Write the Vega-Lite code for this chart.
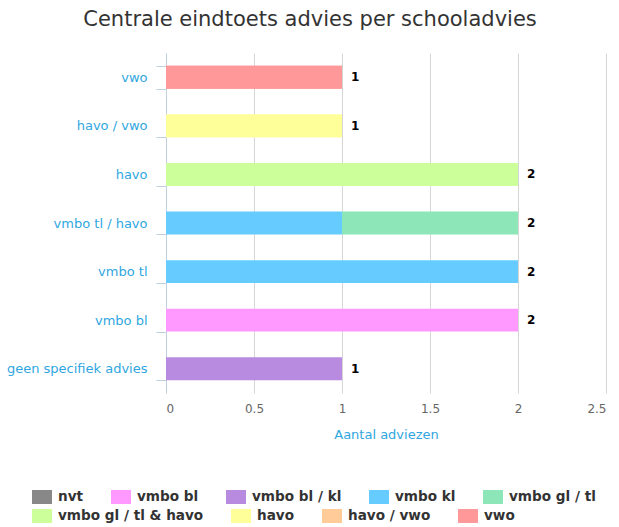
{
  "$schema": "https://vega.github.io/schema/vega-lite/v6.json",
  "width": 440,
  "height": 340,
  "autosize": {"type": "none"},
  "padding": {"left": 166, "top": 53, "right": 13, "bottom": 134},
  "background": "white",
  "config": {"font": "DejaVu Sans", "view": {"stroke": null}},
  "title": {
    "text": "Centrale eindtoets advies per schooladvies",
    "font": "DejaVu Sans",
    "fontSize": 21,
    "fontWeight": "normal",
    "color": "#333333",
    "anchor": "middle",
    "dx": -76,
    "offset": 17
  },
  "data": {
    "values": [
      {"schooladvies": "vwo", "eindtoets": "vwo", "aantal": 1},
      {"schooladvies": "havo / vwo", "eindtoets": "havo", "aantal": 1},
      {"schooladvies": "havo", "eindtoets": "vmbo gl / tl & havo", "aantal": 2},
      {"schooladvies": "vmbo tl / havo", "eindtoets": "vmbo kl", "aantal": 1},
      {"schooladvies": "vmbo tl / havo", "eindtoets": "vmbo gl / tl", "aantal": 1},
      {"schooladvies": "vmbo tl", "eindtoets": "vmbo kl", "aantal": 2},
      {"schooladvies": "vmbo bl", "eindtoets": "vmbo bl", "aantal": 2},
      {"schooladvies": "geen specifiek advies", "eindtoets": "vmbo bl / kl", "aantal": 1}
    ]
  },
  "encoding": {
    "y": {
      "field": "schooladvies",
      "type": "nominal",
      "scale": {
        "domain": ["vwo", "havo / vwo", "havo", "vmbo tl / havo", "vmbo tl", "vmbo bl", "geen specifiek advies"],
        "paddingInner": 0.53,
        "paddingOuter": 0.265
      },
      "axis": {
        "title": null,
        "labelColor": "#2fa6df",
        "labelFontSize": 13,
        "labelFont": "DejaVu Sans",
        "domainColor": "#C0D0E0",
        "tickColor": "#C0D0E0",
        "tickSize": 10,
        "tickBand": "extent",
        "labelPadding": 9,
        "grid": false
      }
    }
  },
  "layer": [
    {
      "mark": {"type": "bar", "strokeWidth": 0},
      "encoding": {
        "x": {
          "field": "aantal",
          "type": "quantitative",
          "stack": "zero",
          "scale": {"domain": [0, 2.5], "nice": false},
          "axis": {
            "values": [0, 0.5, 1, 1.5, 2, 2.5],
            "labelExpr": "toString(datum.value)",
            "grid": true,
            "gridColor": "#d6d6d6",
            "gridWidth": 1,
            "domain": false,
            "ticks": false,
            "labelColor": "#666666",
            "labelFontSize": 12,
            "labelPadding": 10,
            "title": "Aantal adviezen",
            "titleColor": "#2fa6df",
            "titleFontSize": 13,
            "titleFontWeight": "normal",
            "titlePadding": 14
          }
        },
        "color": {
          "field": "eindtoets",
          "type": "nominal",
          "scale": {
            "domain": ["nvt", "vmbo bl", "vmbo bl / kl", "vmbo kl", "vmbo gl / tl", "vmbo gl / tl & havo", "havo", "havo / vwo", "vwo"],
            "range": ["#888888", "#ff99ff", "#b88ae0", "#66ccff", "#8ce6b8", "#ccff99", "#ffff99", "#ffcc99", "#ff9999"]
          },
          "legend": {
            "title": null,
            "values": ["nvt", "vmbo bl", "vmbo bl / kl", "vmbo kl", "vmbo gl / tl"],
            "orient": "none",
            "legendX": -134,
            "legendY": 434,
            "direction": "horizontal",
            "columns": 5,
            "symbolType": "M-1,-0.7H1V0.7H-1Z",
            "symbolSize": 400,
            "symbolStrokeWidth": 0,
            "symbolOpacity": 1,
            "labelFontSize": 13.6,
            "labelFontWeight": "bold",
            "labelColor": "#333333",
            "labelOffset": 6,
            "columnPadding": 27,
            "labelLimit": 300
          }
        },
        "order": {"field": "eindtoets", "sort": "descending"}
      }
    },
    {
      "transform": [
        {"filter": {"field": "eindtoets", "oneOf": ["vmbo gl / tl & havo", "havo", "havo / vwo", "vwo"]}}
      ],
      "mark": {"type": "bar", "strokeWidth": 0},
      "encoding": {
        "x": {"field": "aantal", "type": "quantitative", "stack": "zero"},
        "fill": {
          "field": "eindtoets",
          "type": "nominal",
          "scale": {
            "domain": ["vmbo gl / tl & havo", "havo", "havo / vwo", "vwo"],
            "range": ["#ccff99", "#ffff99", "#ffcc99", "#ff9999"]
          },
          "legend": {
            "title": null,
            "orient": "none",
            "legendX": -134,
            "legendY": 453,
            "direction": "horizontal",
            "columns": 4,
            "symbolType": "M-1,-0.7H1V0.7H-1Z",
            "symbolSize": 400,
            "symbolStrokeWidth": 0,
            "symbolOpacity": 1,
            "labelFontSize": 13.6,
            "labelFontWeight": "bold",
            "labelColor": "#333333",
            "labelOffset": 6,
            "columnPadding": 27,
            "labelLimit": 300
          }
        }
      }
    },
    {
      "transform": [
        {"aggregate": [{"op": "sum", "field": "aantal", "as": "totaal"}], "groupby": ["schooladvies"]}
      ],
      "mark": {"type": "text", "align": "left", "baseline": "middle", "dx": 9, "fontSize": 12, "fontWeight": "bold", "color": "#000000"},
      "encoding": {
        "x": {"field": "totaal", "type": "quantitative"},
        "text": {"field": "totaal", "type": "quantitative"}
      }
    }
  ]
}
